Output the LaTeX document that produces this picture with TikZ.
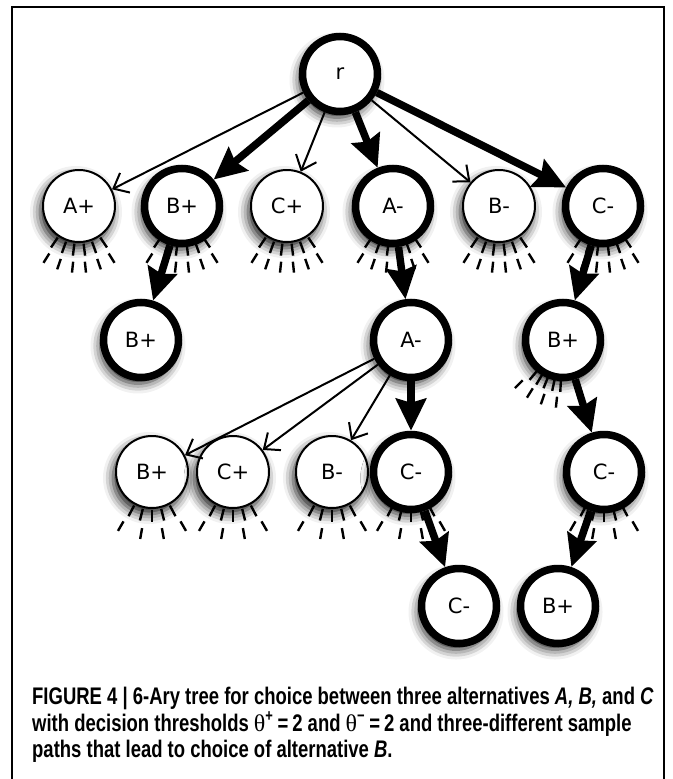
\documentclass[tikz,border=0pt]{standalone}
\usepackage{fontspec}
\setmainfont{DejaVu Sans}
\newfontfamily\capfont[FakeStretch=0.77, UprightFont=* Bold, ItalicFont=* Bold Italic]{Liberation Sans}
\newfontfamily\thetafont{Liberation Serif}
\usetikzlibrary{arrows.meta,shadows.blur}
\newcommand\hairs[4]{%
  \foreach \a in {#2} \draw[hair] ([shift={(\a:#3pt)}]#1.center) -- ([shift={(\a:#4pt)}]#1.center);}
\begin{document}
\begin{tikzpicture}[x=1pt,y=-1pt,
  nd/.style={circle, draw, fill=white, line width=2pt, minimum size=72pt, inner sep=0pt,
    font=\fontsize{21}{21}\selectfont,
    blur shadow={shadow xshift=-3pt, shadow yshift=-6pt, shadow blur radius=10pt, shadow opacity=90}},
  thk/.style={nd, line width=7.5pt, minimum size=75pt},
  hair/.style={line width=2.4pt},
  thinarr/.style={line width=2pt, -{Straight Barb[length=13pt,width=22pt,line width=2pt]}},
  thickarr/.style={line width=7.5pt, -{Stealth[length=32pt,width=30pt,inset=4pt]}},
  captext/.style={anchor=base west, inner sep=0pt, font=\capfont\fontsize{24}{24}\selectfont}]
\useasboundingbox (0,0) rectangle (672,779);
\draw[line width=1.5pt] (12,779) -- (12,7) -- (664,7) -- (664,779);

% nodes
\node[thk] (r)  at (340,74)  {r};
\node[nd]  (a1) at (79,206)  {A+};
\node[thk] (b1) at (182,206) {B+};
\node[nd]  (c1) at (287,206) {C+};
\node[thk] (d1) at (393,206) {A-};
\node[nd]  (e1) at (499,206) {B-};
\node[thk] (f1) at (603,206) {C-};
\node[thk] (b2) at (141,340) {B+};
\node[thk] (d2) at (411,340) {A-};
\node[thk] (g2) at (563,340) {B+};
\node[nd]  (h3) at (152,472) {B+};
\node[nd]  (i3) at (233,472) {C+};
\node[nd]  (j3) at (332,472) {B-};
\node[thk] (k3) at (411,472) {C-};
\node[thk] (l3) at (604,472) {C-};
\node[thk] (m4) at (459,606) {C-};
\node[thk] (n4) at (558,606) {B+};

% hair marks (omitted subtrees)
\foreach \n in {a1,b1,c1,d1,e1,f1}{
  \hairs{\n}{-124,-110,-97,-83,-70,-56}{38}{50}
  \hairs{\n}{-122,-109,-96,-84,-71,-58}{56}{67}
}
\foreach \n in {h3,i3,j3,k3,l3}{
  \hairs{\n}{-118,-104,-90,-76,-62}{38}{50}
  \hairs{\n}{-120,-100,-80,-60}{57}{68}
}
\hairs{g2}{-130,-121,-112,-102,-93}{40}{52}
\hairs{g2}{-135,-122,-109,-96}{57}{68}

% connectors
\draw[thinarr] (r) -- (a1);
\draw[thinarr] (r) -- (c1);
\draw[thinarr] (r) -- (e1);
\draw[thickarr] (r) -- (b1);
\draw[thickarr] (r) -- (d1);
\draw[thickarr] (r) -- (f1);
\draw[thickarr] (b1) -- (b2);
\draw[thickarr] (d1) -- (d2);
\draw[thickarr] (f1) -- (g2);
\draw[thinarr] (d2) -- (h3);
\draw[thinarr] (d2) -- (i3);
\draw[thinarr] (d2) -- (j3);
\draw[thickarr] (d2) -- (k3);
\draw[thickarr] (g2) -- (l3);
\draw[thickarr] (k3) -- (m4);
\draw[thickarr] (l3) -- (n4);

% caption
\node[captext] (cap1) at (32,704) {FIGURE 4 | 6-Ary tree for choice between three alternatives \textit{A, B,} and \textit{C}};
\node[captext] (cap2) at (32,731) {with decision thresholds {\thetafont θ}\textsuperscript{+}\,=\,2 and {\thetafont θ}\textsuperscript{−}\,=\,2 and three-different sample};
\node[captext] (cap3) at (32,757) {paths that lead to choice of alternative \textit{B}.};
\end{tikzpicture}
\end{document}
